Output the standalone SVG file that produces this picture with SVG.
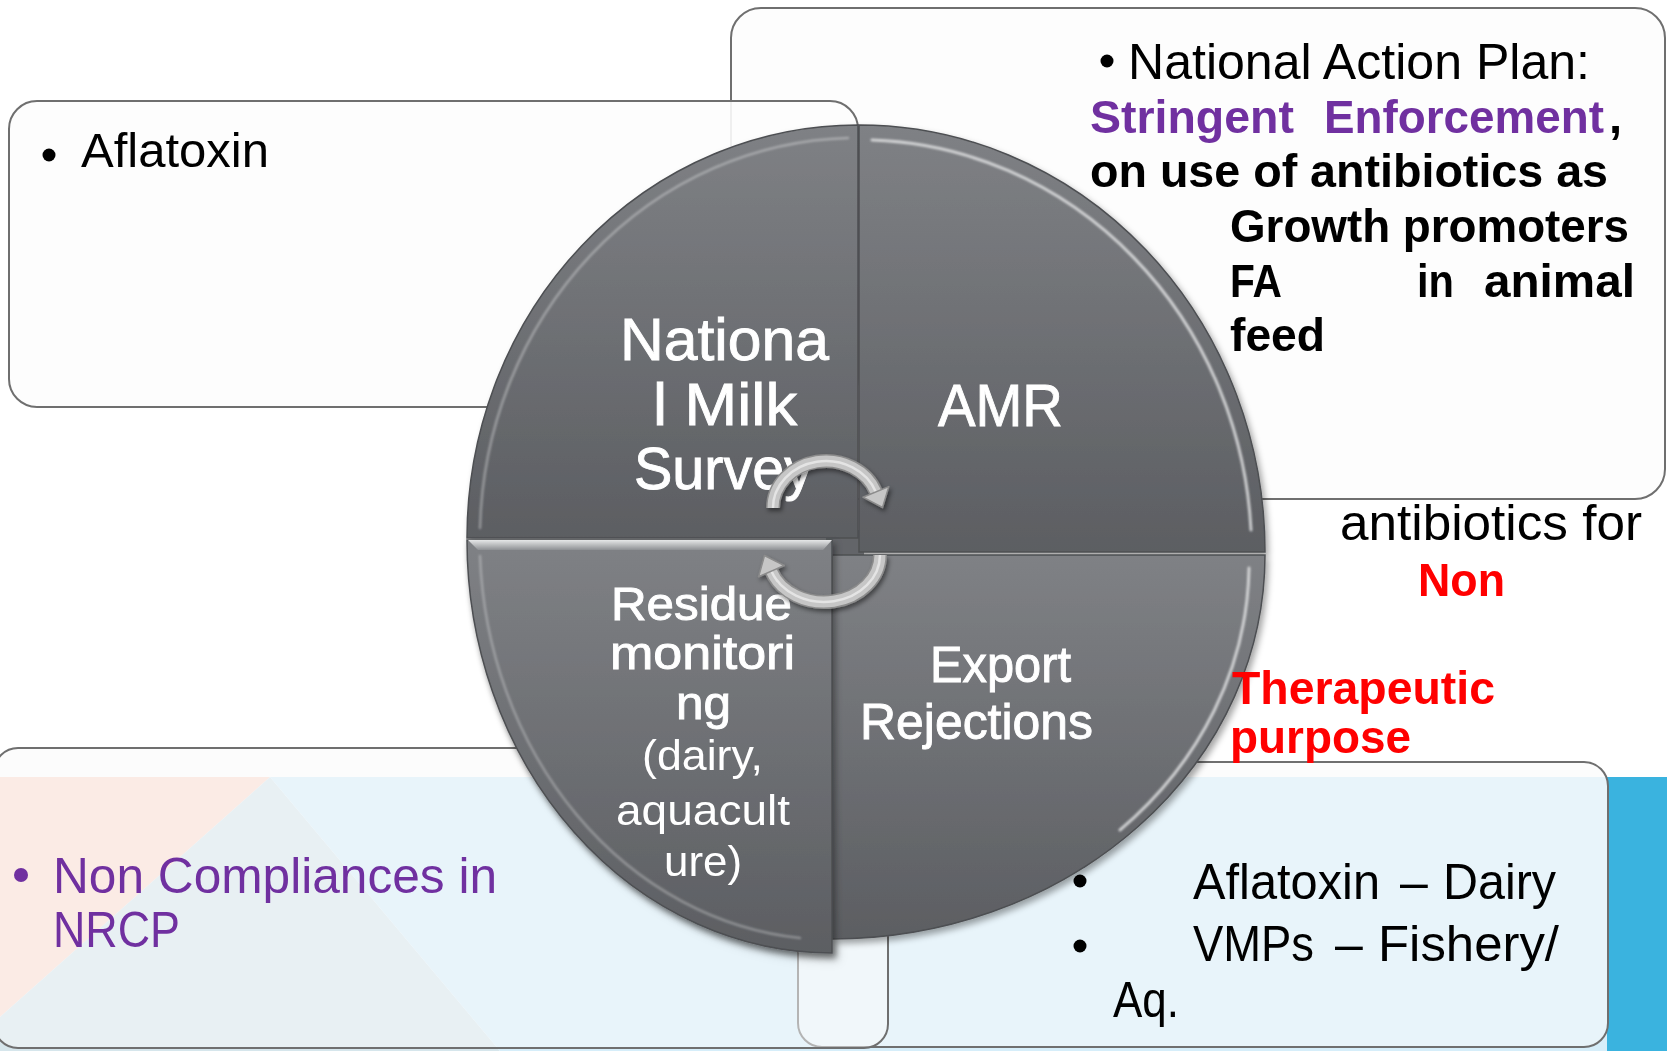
<svg xmlns="http://www.w3.org/2000/svg" width="1667" height="1051" viewBox="0 0 1667 1051">
<defs>
<linearGradient id="gq" x1="0" y1="0" x2="0" y2="1">
<stop offset="0" stop-color="#7f8185"/><stop offset="1" stop-color="#5c5e62"/>
</linearGradient>
<linearGradient id="gbev" x1="0" y1="0" x2="0" y2="1">
<stop offset="0" stop-color="#e6e7e8"/><stop offset="1" stop-color="#8e9094"/>
</linearGradient>
<filter id="shq" x="-10%" y="-10%" width="130%" height="130%">
<feDropShadow dx="3" dy="4" stdDeviation="3" flood-color="#000" flood-opacity="0.35"/>
</filter>
<filter id="soft" x="-10%" y="-10%" width="120%" height="120%">
<feGaussianBlur stdDeviation="1.2"/>
</filter>
<filter id="sha" x="-20%" y="-20%" width="150%" height="150%">
<feDropShadow dx="2" dy="3" stdDeviation="2" flood-color="#000" flood-opacity="0.45"/>
</filter>
</defs>
<style>
.panel{stroke:#6f6f6f;stroke-width:2}
.q{fill:url(#gq);stroke:#4d4f52;stroke-width:1.5}
.hl{fill:none;stroke:#e6e7e8;stroke-linecap:round;filter:url(#soft)}
.txt{font-family:"Liberation Sans",Arial,sans-serif}
.w{fill:#fff}
.k{fill:#000}
.bd{font-weight:bold}
.pur{fill:#7030a0}
.red{fill:#ff0000}
.med{stroke:#fff;stroke-width:0.9}
.arr-o{fill:none;stroke:#8c8c8c;stroke-width:14}
.arr-m{fill:none;stroke:#c6c6c6;stroke-width:11}
.arr-i{fill:none;stroke:#e4e4e4;stroke-width:2.5}
.head{fill:#c6c6c6;stroke:#8c8c8c;stroke-width:1.5;stroke-linejoin:round}
</style>

<g id="background">
<rect x="0" y="0" width="1667" height="1051" fill="#ffffff"/>
<polygon points="0,777 270,777 0,1017" fill="#fcdcd0"/>
<polygon points="270,777 500,1051 0,1051 0,1017" fill="#d6e6ec"/>
<polygon points="270,777 1667,777 1667,1051 500,1051" fill="#d6eefa"/>
<rect x="1607" y="777" width="60" height="274" fill="#3ab3df"/>
</g>

<g id="panel-tr"><rect class="panel" x="731" y="8" width="934" height="491" rx="30" fill="#fdfdfd"/></g>
<g id="panel-tl"><rect class="panel" x="9" y="101" width="849" height="306" rx="28" fill="#fdfdfd" fill-opacity="0.9"/></g>
<g id="panel-br"><rect class="panel" x="798" y="762" width="810" height="285" rx="24" fill="#fafafa" fill-opacity="0.5"/></g>
<g id="panel-bl"><rect class="panel" x="-6" y="748" width="894" height="300" rx="24" fill="#fafafa" fill-opacity="0.5"/></g>

<g id="cycle" filter="url(#shq)">
<rect x="826" y="530" width="38" height="30" fill="#636569"/>
<g id="quad-tl">
<path class="q" d="M858,538 L467,538 A391,413 0 0 1 858,125 Z"/>
<path class="hl" d="M480,528 A378,401 0 0 1 848,138" stroke-width="2.5" opacity="0.4"/>
<text class="txt w med" x="620" y="360" font-size="60" textLength="209" lengthAdjust="spacingAndGlyphs">Nationa</text>
<text class="txt w med" x="653" y="425" font-size="60" textLength="144" lengthAdjust="spacingAndGlyphs">l Milk</text>
<text class="txt w med" x="634" y="489" font-size="60" textLength="179" lengthAdjust="spacingAndGlyphs">Survey</text>
</g>
<g id="quad-tr">
<path class="q" d="M859,552 L859,125 A406,427 0 0 1 1265,552 Z"/>
<path class="hl" d="M872,140 A392,413 0 0 1 1251,530" stroke-width="3" opacity="0.8"/>
<text class="txt w med" x="938" y="426" font-size="60" textLength="125" lengthAdjust="spacingAndGlyphs">AMR</text>
</g>
<g id="quad-br">
<path class="q" d="M832,555 L1265,555 A433,384 0 0 1 832,939 Z"/>
<path class="hl" d="M1249,568 A418,370 0 0 1 1120,830" stroke-width="3" opacity="0.8"/>
<text class="txt w med" x="930" y="682" font-size="50" textLength="141" lengthAdjust="spacingAndGlyphs">Export</text>
<text class="txt w med" x="860" y="739" font-size="50" textLength="233" lengthAdjust="spacingAndGlyphs">Rejections</text>
</g>
<g id="quad-bl" filter="url(#shq)">
<path class="q" d="M832,540 L832,953 A365,413 0 0 1 467,540 Z"/>
<polygon points="468,540 832,540 823,550 478,550" fill="url(#gbev)"/>
<path class="hl" d="M480,556 A353,401 0 0 0 800,938" stroke-width="2.5" opacity="0.35"/>
<text class="txt w med" x="611" y="620" font-size="47" textLength="181" lengthAdjust="spacingAndGlyphs">Residue</text>
<text class="txt w med" x="610" y="669" font-size="47" textLength="185" lengthAdjust="spacingAndGlyphs">monitori</text>
<text class="txt w med" x="676" y="719" font-size="47" textLength="55" lengthAdjust="spacingAndGlyphs">ng</text>
<text class="txt w" x="642" y="770" font-size="43" textLength="121" lengthAdjust="spacingAndGlyphs">(dairy,</text>
<text class="txt w" x="616" y="825" font-size="43" textLength="174" lengthAdjust="spacingAndGlyphs">aquacult</text>
<text class="txt w" x="664" y="876" font-size="43" textLength="78" lengthAdjust="spacingAndGlyphs">ure)</text>
</g>
</g>

<g id="connectors" filter="url(#sha)">
<g id="arrow-top">
<path class="arr-o" d="M773,508 A53,47 0 0 1 875.8,491.9"/>
<path class="arr-m" d="M773,508 A53,47 0 0 1 875.8,491.9"/>
<path class="arr-i" d="M773,508 A53,47 0 0 1 875.8,491.9"/>
<polygon class="head" points="862.9,497.2 888.8,486.6 882.5,507.5"/>
</g>
<g id="arrow-bottom">
<path class="arr-o" d="M880,555 A56,47 0 0 1 771.4,571.1"/>
<path class="arr-m" d="M880,555 A56,47 0 0 1 771.4,571.1"/>
<path class="arr-i" d="M880,555 A56,47 0 0 1 771.4,571.1"/>
<polygon class="head" points="784.2,565.5 758.6,576.7 764.5,555.5"/>
</g>
</g>

<g id="text-tl">
<circle cx="49" cy="155" r="6.5" fill="#000"/>
<text class="txt k" x="81" y="167" font-size="48" textLength="188" lengthAdjust="spacingAndGlyphs">Aflatoxin</text>
</g>

<g id="text-tr">
<circle cx="1107" cy="61" r="6.5" fill="#000"/>
<text class="txt k" x="1128" y="79" font-size="50" textLength="462" lengthAdjust="spacingAndGlyphs">National Action Plan:</text>
<text class="txt pur bd" x="1090" y="133" font-size="47" textLength="204" lengthAdjust="spacingAndGlyphs">Stringent</text>
<text class="txt pur bd" x="1324" y="133" font-size="47" textLength="280" lengthAdjust="spacingAndGlyphs">Enforcement</text>
<text class="txt k bd" x="1609" y="133" font-size="47">,</text>
<text class="txt k bd" x="1090" y="187" font-size="47" textLength="518" lengthAdjust="spacingAndGlyphs">on use of antibiotics as</text>
<text class="txt k bd" x="1230" y="242" font-size="47" textLength="399" lengthAdjust="spacingAndGlyphs">Growth promoters</text>
<text class="txt k bd" x="1230" y="297" font-size="47" textLength="52" lengthAdjust="spacingAndGlyphs">FA</text>
<text class="txt k bd" x="1417" y="297" font-size="47" textLength="37" lengthAdjust="spacingAndGlyphs">in</text>
<text class="txt k bd" x="1484" y="297" font-size="47" textLength="151" lengthAdjust="spacingAndGlyphs">animal</text>
<text class="txt k bd" x="1230" y="351" font-size="47" textLength="95" lengthAdjust="spacingAndGlyphs">feed</text>
<text class="txt k" x="1340" y="540" font-size="50" textLength="302" lengthAdjust="spacingAndGlyphs">antibiotics for</text>
<text class="txt red bd" x="1418" y="596" font-size="47" textLength="87" lengthAdjust="spacingAndGlyphs">Non</text>
<text class="txt red bd" x="1232" y="704" font-size="47" textLength="263" lengthAdjust="spacingAndGlyphs">Therapeutic</text>
<text class="txt red bd" x="1230" y="753" font-size="47" textLength="181" lengthAdjust="spacingAndGlyphs">purpose</text>
</g>

<g id="text-bl">
<circle cx="21" cy="875" r="7" fill="#7030a0"/>
<text class="txt pur" x="53" y="893" font-size="50" textLength="444" lengthAdjust="spacingAndGlyphs">Non Compliances in</text>
<text class="txt pur" x="53" y="947" font-size="50" textLength="127" lengthAdjust="spacingAndGlyphs">NRCP</text>
</g>

<g id="text-br">
<circle cx="1080" cy="881" r="6.5" fill="#000"/>
<circle cx="1080" cy="946" r="6.5" fill="#000"/>
<text class="txt k" x="1193" y="899" font-size="50" textLength="187" lengthAdjust="spacingAndGlyphs">Aflatoxin</text>
<text class="txt k" x="1400" y="899" font-size="50">–</text>
<text class="txt k" x="1443" y="899" font-size="50" textLength="113" lengthAdjust="spacingAndGlyphs">Dairy</text>
<text class="txt k" x="1193" y="961" font-size="50" textLength="121" lengthAdjust="spacingAndGlyphs">VMPs</text>
<text class="txt k" x="1335" y="961" font-size="50">–</text>
<text class="txt k" x="1378" y="961" font-size="50" textLength="181" lengthAdjust="spacingAndGlyphs">Fishery/</text>
<text class="txt k" x="1113" y="1017" font-size="50" textLength="66" lengthAdjust="spacingAndGlyphs">Aq.</text>
</g>
</svg>
